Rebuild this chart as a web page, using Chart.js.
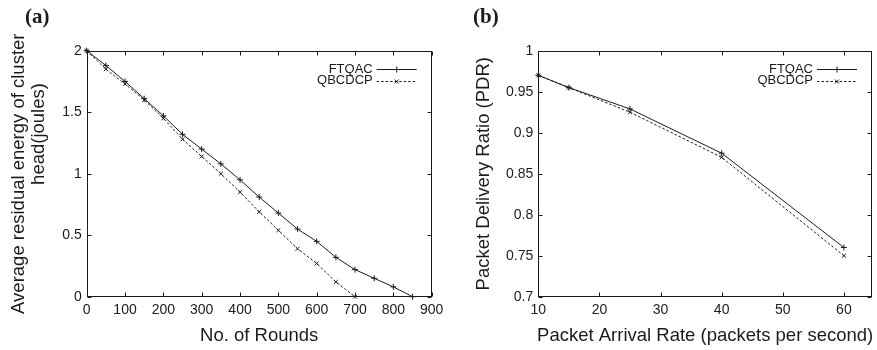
<!DOCTYPE html>
<html>
<head>
<meta charset="utf-8">
<script src="https://cdn.jsdelivr.net/npm/chart.js@4/dist/chart.umd.min.js"></script>
<style>
  html, body { margin: 0; padding: 0; background: #fff; width: 877px; height: 350px; overflow: hidden; }
  .pane { position: absolute; top: 0; height: 350px; }
  #paneA { left: 0; width: 465px; }
  #paneB { left: 465px; width: 412px; }
</style>
</head>
<body>
<div class="pane" id="paneA"><canvas id="chartA"></canvas></div>
<div class="pane" id="paneB"><canvas id="chartB"></canvas></div>
<script>
// (a) residual energy of cluster heads over rounds
const rounds = [0, 50, 100, 150, 200, 250, 300, 350, 400, 450, 500, 550, 600, 650, 700, 750, 800, 850];
const energyFTQAC = [2.0, 1.88, 1.75, 1.61, 1.47, 1.32, 1.20, 1.08, 0.95, 0.81, 0.68, 0.55, 0.45, 0.32, 0.22, 0.15, 0.08, 0.0];
const roundsQBCDCP = [0, 50, 100, 150, 200, 250, 300, 350, 400, 450, 500, 550, 600, 650, 700];
const energyQBCDCP = [2.0, 1.85, 1.73, 1.60, 1.45, 1.28, 1.14, 1.00, 0.85, 0.69, 0.54, 0.39, 0.27, 0.12, 0.0];
const roundTicks = [0, 100, 200, 300, 400, 500, 600, 700, 800, 900];
const energyTicks = [0, 0.5, 1, 1.5, 2];

// (b) packet delivery ratio vs arrival rate
const arrivalRates = [10, 15, 25, 40, 60];
const pdrFTQAC = [0.97, 0.955, 0.929, 0.875, 0.76];
const pdrQBCDCP = [0.97, 0.955, 0.925, 0.87, 0.75];
const rateTicks = [10, 20, 30, 40, 50, 60];
const pdrTicks = [0.7, 0.75, 0.8, 0.85, 0.9, 0.95, 1];

const FONT = '"Liberation Sans", Arial, Helvetica, sans-serif';
const INK = '#1b1b1b';

function pts(xs, ys) { return xs.map((v, i) => ({ x: v, y: ys[i] })); }

// gnuplot-style box: full border, inward mirrored ticks, key inside top-right
const panelFrame = {
  id: 'panelFrame',
  afterDraw(chart, args, o) {
    const { ctx, chartArea: a, scales: { x, y } } = chart;
    ctx.save();
    ctx.strokeStyle = INK;
    ctx.lineWidth = 1;
    ctx.setLineDash([]);
    const L = Math.round(a.left) + 0.5, R = Math.round(a.right) - 0.5;
    const T = Math.round(a.top) + 0.5, B = Math.round(a.bottom) - 0.5;
    ctx.strokeRect(L, T, R - L, B - T);
    ctx.beginPath();
    o.xTicks.forEach(v => {
      const p = Math.round(x.getPixelForValue(v)) + 0.5;
      ctx.moveTo(p, B); ctx.lineTo(p, B - 4);
      ctx.moveTo(p, T); ctx.lineTo(p, T + 4);
    });
    o.yTicks.forEach(v => {
      const p = Math.round(y.getPixelForValue(v)) + 0.5;
      ctx.moveTo(L, p); ctx.lineTo(L + 4, p);
      ctx.moveTo(R, p); ctx.lineTo(R - 4, p);
    });
    ctx.stroke();

    // key
    ctx.font = '13px ' + FONT;
    ctx.fillStyle = INK;
    ctx.textAlign = 'right';
    ctx.textBaseline = 'middle';
    chart.data.datasets.forEach((ds, i) => {
      const ky = a.top + 18.5 + i * 11.7;
      ctx.fillText(ds.label, a.right - 59, ky);
      ctx.beginPath();
      ctx.setLineDash(ds.borderDash || []);
      ctx.moveTo(a.right - 55, Math.round(ky) + 0.5);
      ctx.lineTo(a.right - 15, Math.round(ky) + 0.5);
      ctx.stroke();
      ctx.setLineDash([]);
      Chart.helpers.drawPoint(ctx, {
        pointStyle: ds.pointStyle, radius: ds.pointRadius, rotation: 0, borderWidth: 1
      }, a.right - 35, Math.round(ky) + 0.5);
    });

    // axis titles
    ctx.font = '18.5px ' + FONT;
    ctx.textAlign = 'center';
    ctx.textBaseline = 'middle';
    ctx.fillText(o.xTitle, (a.left + a.right) / 2, o.xTitleY);
    o.yTitle.forEach((line, i) => {
      ctx.save();
      ctx.translate(o.yTitleX[i], o.yTitleY[i]);
      ctx.rotate(-Math.PI / 2);
      ctx.fillText(line, 0, 0);
      ctx.restore();
    });

    // panel tag
    ctx.font = 'bold 21px "Liberation Serif", "Times New Roman", serif';
    ctx.textAlign = 'left';
    ctx.fillText(o.tag, o.tagX, 18);
    ctx.restore();
  }
};

function lineSet(label, data, dashed) {
  return {
    label,
    data,
    borderColor: INK,
    borderWidth: 1,
    borderDash: dashed ? [2.5, 2] : [],
    pointStyle: dashed ? 'crossRot' : 'cross',
    pointRadius: dashed ? 2.8 : 3,
    pointBorderWidth: 1,
    pointBorderColor: INK,
    pointBackgroundColor: 'transparent',
    backgroundColor: 'transparent',
    fill: false,
    tension: 0,
    clip: false
  };
}

function axisX(min, max, ticks) {
  return {
    type: 'linear', min, max,
    afterBuildTicks: s => { s.ticks = ticks.map(v => ({ value: v })); },
    afterFit: s => { s.height = 53.3; },
    grid: { display: false, drawTicks: false },
    border: { display: false },
    ticks: { color: INK, font: { family: FONT, size: 14 }, padding: 5, maxRotation: 0, autoSkip: false, callback: v => String(v) }
  };
}

function axisY(min, max, ticks, width) {
  return {
    type: 'linear', min, max,
    afterBuildTicks: s => { s.ticks = ticks.map(v => ({ value: v })); },
    afterFit: s => { s.width = width; },
    grid: { display: false, drawTicks: false },
    border: { display: false },
    ticks: { color: INK, font: { family: FONT, size: 14 }, padding: 5, autoSkip: false, callback: v => String(v) }
  };
}

function makeChart(id, datasets, scales, padRight, frameOpts) {
  return new Chart(document.getElementById(id), {
    type: 'line',
    data: { datasets },
    options: {
      responsive: true,
      maintainAspectRatio: false,
      animation: false,
      devicePixelRatio: 1,
      events: [],
      layout: { padding: { top: 50.7, right: padRight, left: 0, bottom: 0 } },
      scales,
      plugins: { legend: { display: false }, tooltip: { enabled: false }, panelFrame: frameOpts }
    },
    plugins: [panelFrame]
  });
}

makeChart('chartA',
  [lineSet('FTQAC', pts(rounds, energyFTQAC), false), lineSet('QBCDCP', pts(roundsQBCDCP, energyQBCDCP), true)],
  { x: axisX(0, 900, roundTicks), y: axisY(0, 2, energyTicks, 86.7) },
  465 - 431.7,
  {
    xTicks: roundTicks, yTicks: energyTicks,
    xTitle: 'No. of Rounds', xTitleY: 336,
    yTitle: ['Average residual energy of cluster', 'head(joules)'],
    yTitleX: [19, 39], yTitleY: [173.7, 134],
    tag: '(a)', tagX: 25
  });

makeChart('chartB',
  [lineSet('FTQAC', pts(arrivalRates, pdrFTQAC), false), lineSet('QBCDCP', pts(arrivalRates, pdrQBCDCP), true)],
  { x: axisX(10, 64.6, rateTicks), y: axisY(0.7, 1, pdrTicks, 538.3 - 465) },
  2,
  {
    xTicks: rateTicks, yTicks: pdrTicks,
    xTitle: 'Packet Arrival Rate (packets per second)', xTitleY: 336,
    yTitle: ['Packet Delivery Ratio (PDR)'], yTitleX: [484 - 465], yTitleY: [173.7],
    tag: '(b)', tagX: 473 - 465
  });
</script>
</body>
</html>
